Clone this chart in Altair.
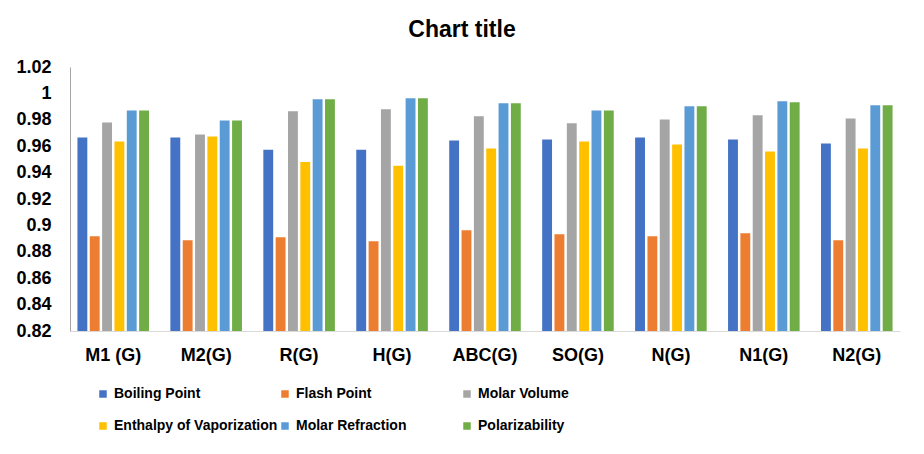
import altair as alt
import pandas as pd

categories = ["M1 (G)", "M2(G)", "R(G)", "H(G)", "ABC(G)", "SO(G)", "N(G)", "N1(G)", "N2(G)"]
series = ["Boiling Point", "Flash Point", "Molar Volume",
          "Enthalpy of Vaporization", "Molar Refraction", "Polarizability"]
colors = ["#4472C4", "#ED7D31", "#A5A5A5", "#FFC000", "#5B9BD5", "#70AD47"]

boiling_point = [0.9666, 0.9666, 0.9574, 0.9574, 0.9643, 0.9650, 0.9666, 0.9650, 0.9620]
flash_point = [0.8918, 0.8887, 0.8910, 0.8880, 0.8963, 0.8933, 0.8918, 0.8940, 0.8887]
molar_volume = [0.9780, 0.9689, 0.9864, 0.9880, 0.9826, 0.9773, 0.9803, 0.9834, 0.9810]
enthalpy_vap = [0.9635, 0.9673, 0.9480, 0.9452, 0.9582, 0.9635, 0.9612, 0.9559, 0.9582]
molar_refraction = [0.9870, 0.9795, 0.9956, 0.9963, 0.9925, 0.9870, 0.9902, 0.9940, 0.9910]
polarizability = [0.9870, 0.9795, 0.9956, 0.9963, 0.9925, 0.9870, 0.9902, 0.9933, 0.9910]

values = [boiling_point, flash_point, molar_volume, enthalpy_vap, molar_refraction, polarizability]
y_ticks = [0.82, 0.84, 0.86, 0.88, 0.9, 0.92, 0.94, 0.96, 0.98, 1.0, 1.02]

rows = []
for s, vals in zip(series, values):
    for c, v in zip(categories, vals):
        rows.append({"category": c, "series": s, "value": v})
df = pd.DataFrame(rows)

FONT = "Liberation Sans"

chart = alt.Chart(df).mark_bar().encode(
    x=alt.X("category:N", sort=categories, title=None,
            scale=alt.Scale(paddingInner=0.23, paddingOuter=0.08),
            axis=alt.Axis(labelAngle=0, ticks=False, domainColor="#D9D9D9",
                          labelFont=FONT, labelFontSize=18, labelFontWeight="bold",
                          labelColor="#000000", labelPadding=15)),
    xOffset=alt.XOffset("series:N", sort=series,
                        scale=alt.Scale(paddingInner=0.2, paddingOuter=0)),
    y=alt.Y("value:Q", title=None,
            scale=alt.Scale(domain=[0.82, 1.02], zero=False, nice=False),
            axis=alt.Axis(values=y_ticks, format="~g", grid=False, ticks=False,
                          domainColor="#A6A6A6", labelFont=FONT, labelFontSize=18,
                          labelFontWeight="bold", labelColor="#000000", labelPadding=19)),
    y2=alt.datum(0.82),
    color=alt.Color("series:N", sort=series,
                    scale=alt.Scale(domain=series, range=colors),
                    legend=alt.Legend(title=None, orient="none", legendX=26, legendY=320,
                                      direction="horizontal", columns=3, gridAlign="all",
                                      symbolType="square", symbolSize=56,
                                      symbolStrokeWidth=0,
                                      labelFont=FONT,
                                      labelFontSize=14, labelFontWeight="bold",
                                      labelColor="#000000", labelLimit=300,
                                      columnPadding=0, rowPadding=18, labelOffset=4)),
).properties(
    width=830, height=264,
    title=alt.TitleParams("Chart title", font=FONT, fontSize=23, fontWeight="bold",
                          color="#000000", anchor="middle", dx=-23, offset=16),
    autosize=alt.AutoSizeParams(type="none"),
    padding={"left": 62, "top": 59, "right": 16, "bottom": 115},
).configure_view(stroke=None)

chart.save("out.html", embed_options={"renderer": "svg", "actions": False})
